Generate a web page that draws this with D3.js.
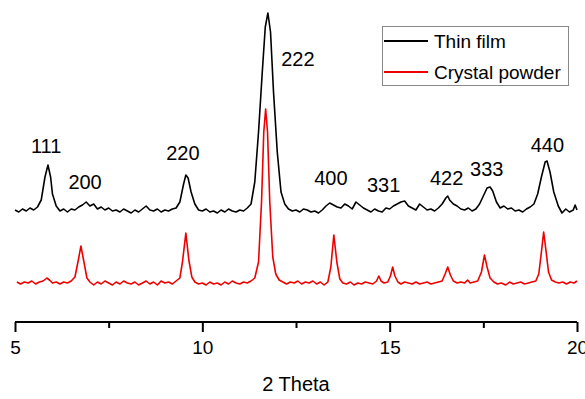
<!DOCTYPE html>
<html><head><meta charset="utf-8">
<script src="https://cdn.jsdelivr.net/npm/d3@7/dist/d3.min.js"></script>
<style>body{margin:0;background:#fff}svg{display:block}text{font-family:"Liberation Sans",Arial,sans-serif}</style>
</head><body>
<svg id="c" width="585" height="399"></svg>
<script>
// 2 Theta (deg) / intensity (a.u.)
const thinFilm = [
[5.0,112],[5.1,110],[5.2,113],[5.3,111],[5.4,114],[5.5,112],[5.6,115],[5.7,122],[5.8,145],[5.88,157],[5.95,145],[6.0,128],[6.1,116],[6.2,111],[6.3,113],[6.4,110],[6.5,113],[6.6,112],[6.7,115],[6.8,117],[6.9,120],[7.0,116],[7.1,118],[7.2,113],[7.3,115],[7.4,112],[7.5,114],[7.6,111],[7.7,112],[7.8,110],[7.9,113],[8.0,111],[8.1,109],[8.2,112],[8.3,110],[8.4,113],[8.5,116],[8.6,112],[8.7,111],[8.8,113],[8.9,110],[9.0,112],[9.1,111],[9.2,113],[9.3,114],[9.4,120],[9.5,138],[9.56,147],[9.62,144],[9.7,130],[9.8,118],[9.9,112],[10.0,111],[10.1,113],[10.2,110],[10.3,111],[10.4,109],[10.5,112],[10.6,110],[10.7,113],[10.8,111],[10.9,110],[11.0,112],[11.1,111],[11.2,114],[11.3,118],[11.4,140],[11.5,190],[11.6,250],[11.68,295],[11.75,309],[11.82,290],[11.9,230],[12.0,170],[12.1,130],[12.2,118],[12.3,113],[12.4,111],[12.5,112],[12.6,110],[12.7,113],[12.8,112],[12.9,110],[13.0,111],[13.1,109],[13.2,112],[13.3,116],[13.4,119],[13.5,117],[13.6,115],[13.7,114],[13.8,118],[13.9,116],[14.0,113],[14.1,120],[14.2,117],[14.3,114],[14.4,112],[14.5,110],[14.6,113],[14.7,111],[14.8,110],[14.9,114],[15.0,113],[15.1,116],[15.2,118],[15.3,120],[15.4,121],[15.5,116],[15.6,114],[15.7,112],[15.8,118],[15.9,115],[16.0,112],[16.1,113],[16.2,111],[16.3,114],[16.4,118],[16.5,124],[16.55,126],[16.6,122],[16.7,118],[16.8,116],[16.9,113],[17.0,112],[17.1,114],[17.2,111],[17.3,113],[17.4,118],[17.5,126],[17.6,134],[17.68,135],[17.75,131],[17.85,120],[17.95,114],[18.05,116],[18.15,113],[18.25,114],[18.35,111],[18.45,112],[18.55,110],[18.65,113],[18.75,115],[18.85,118],[18.95,128],[19.05,145],[19.15,160],[19.2,161],[19.28,150],[19.38,130],[19.5,116],[19.6,109],[19.7,113],[19.8,110],[19.9,112],[19.95,117],[20.0,112]
];
const crystalPowder = [
[5.05,40],[5.15,38],[5.25,40],[5.35,39],[5.45,41],[5.55,38],[5.65,40],[5.75,41],[5.85,44],[5.92,42],[6.0,39],[6.1,40],[6.2,38],[6.3,40],[6.4,39],[6.5,41],[6.6,45],[6.68,60],[6.76,76],[6.84,60],[6.92,44],[7.0,40],[7.1,37],[7.2,40],[7.3,38],[7.4,41],[7.5,39],[7.6,37],[7.7,40],[7.8,38],[7.9,41],[8.0,39],[8.1,38],[8.2,40],[8.3,37],[8.4,39],[8.5,41],[8.6,38],[8.7,40],[8.8,37],[8.9,41],[9.0,39],[9.1,40],[9.2,38],[9.3,41],[9.4,44],[9.47,60],[9.56,89],[9.64,62],[9.72,45],[9.8,40],[9.9,38],[10.0,39],[10.1,37],[10.2,40],[10.3,38],[10.4,39],[10.5,37],[10.6,40],[10.7,38],[10.8,41],[10.9,39],[11.0,38],[11.1,40],[11.2,39],[11.3,41],[11.4,44],[11.5,60],[11.58,120],[11.64,190],[11.69,213],[11.74,190],[11.8,120],[11.88,65],[11.96,48],[12.05,42],[12.15,40],[12.25,38],[12.35,40],[12.45,39],[12.55,41],[12.65,38],[12.75,40],[12.85,39],[12.95,41],[13.05,38],[13.15,40],[13.25,37],[13.35,40],[13.43,55],[13.51,87],[13.59,60],[13.67,43],[13.75,39],[13.85,38],[13.95,40],[14.05,37],[14.15,39],[14.25,38],[14.35,40],[14.45,39],[14.55,38],[14.65,41],[14.71,46],[14.77,41],[14.85,39],[14.95,40],[15.02,46],[15.08,55],[15.14,46],[15.22,40],[15.3,38],[15.4,40],[15.5,39],[15.6,38],[15.7,40],[15.8,38],[15.9,39],[16.0,40],[16.1,38],[16.2,39],[16.3,40],[16.4,41],[16.48,48],[16.55,55],[16.62,47],[16.7,41],[16.8,39],[16.9,40],[17.0,39],[17.08,42],[17.15,39],[17.25,40],[17.35,41],[17.45,50],[17.53,67],[17.6,55],[17.68,44],[17.78,40],[17.88,38],[17.98,39],[18.1,37],[18.2,40],[18.3,38],[18.4,39],[18.5,40],[18.6,38],[18.7,39],[18.8,40],[18.9,41],[18.98,48],[19.05,70],[19.11,90],[19.17,72],[19.24,50],[19.32,42],[19.42,40],[19.52,39],[19.62,40],[19.72,38],[19.82,40],[19.92,39],[20.0,41]
];
const peakLabels = ["111","200","220","222","400","331","422","333","440"];
const peakLabelTheta = [5.83,6.87,9.48,12.55,13.43,14.84,16.52,17.59,19.21];
const peakLabelIntensity = [176,140,169,263,144,137,144,153,177];
const majorTicks = [5,10,15,20];
const minorTicks = [7.5,12.5,17.5];
const seriesNames = ["Thin film","Crystal powder"];
const seriesColors = ["#000000","#ee0000"];

const svg = d3.select("#c");
const x = d3.scaleLinear().domain([5,20]).range([15,577]);
const y = d3.scaleLinear().domain([0,310]).range([322,12]);

const line = d3.line().x(d=>x(d[0])).y(d=>y(d[1]));
[thinFilm, crystalPowder].forEach((s,i)=>{
  svg.append("path").datum(s).attr("d",line).attr("fill","none")
    .attr("stroke",seriesColors[i]).attr("stroke-width",1.6).attr("stroke-linejoin","round");
});

// axis
const axMajor = svg.append("g").attr("transform",`translate(0,${y(0)})`)
  .call(d3.axisBottom(x).tickValues(majorTicks).tickSize(10).tickPadding(9).tickFormat(d3.format("d")));
const axMinor = svg.append("g").attr("transform",`translate(0,${y(0)})`)
  .call(d3.axisBottom(x).tickValues(minorTicks).tickSize(6).tickFormat(""));
[axMajor, axMinor].forEach(g=>{
  g.select(".domain").attr("stroke","#000").attr("stroke-width",2).attr("d",`M${x(5)},0H${x(20)}`);
  g.selectAll(".tick line").attr("stroke","#000").attr("stroke-width",2);
});
axMajor.selectAll(".tick text").attr("font-size",19).attr("fill","#000")
  .style("font-family","'Liberation Sans',Arial,sans-serif");

svg.append("text").attr("x",(x(5)+x(20))/2).attr("y",391).attr("text-anchor","middle")
  .attr("font-size",20).text("2 Theta");

// peak labels
svg.selectAll(".pl").data(peakLabels).enter().append("text")
  .attr("x",(d,i)=>x(peakLabelTheta[i])).attr("y",(d,i)=>y(peakLabelIntensity[i]))
  .attr("dy","0.35em").attr("text-anchor","middle").attr("font-size",20).text(d=>d);

// legend
const lg = svg.append("g");
lg.append("rect").attr("x",382.5).attr("y",26.5).attr("width",186).attr("height",59)
  .attr("fill","#fff").attr("stroke","#888").attr("stroke-width",1);
seriesNames.forEach((n,i)=>{
  const yy = 41 + i*31;
  lg.append("line").attr("x1",384).attr("x2",428).attr("y1",yy).attr("y2",yy)
    .attr("stroke",seriesColors[i]).attr("stroke-width",2);
  lg.append("text").attr("x",434).attr("y",yy).attr("dy","0.35em").attr("font-size",19).text(n);
});
</script>
</body></html>
